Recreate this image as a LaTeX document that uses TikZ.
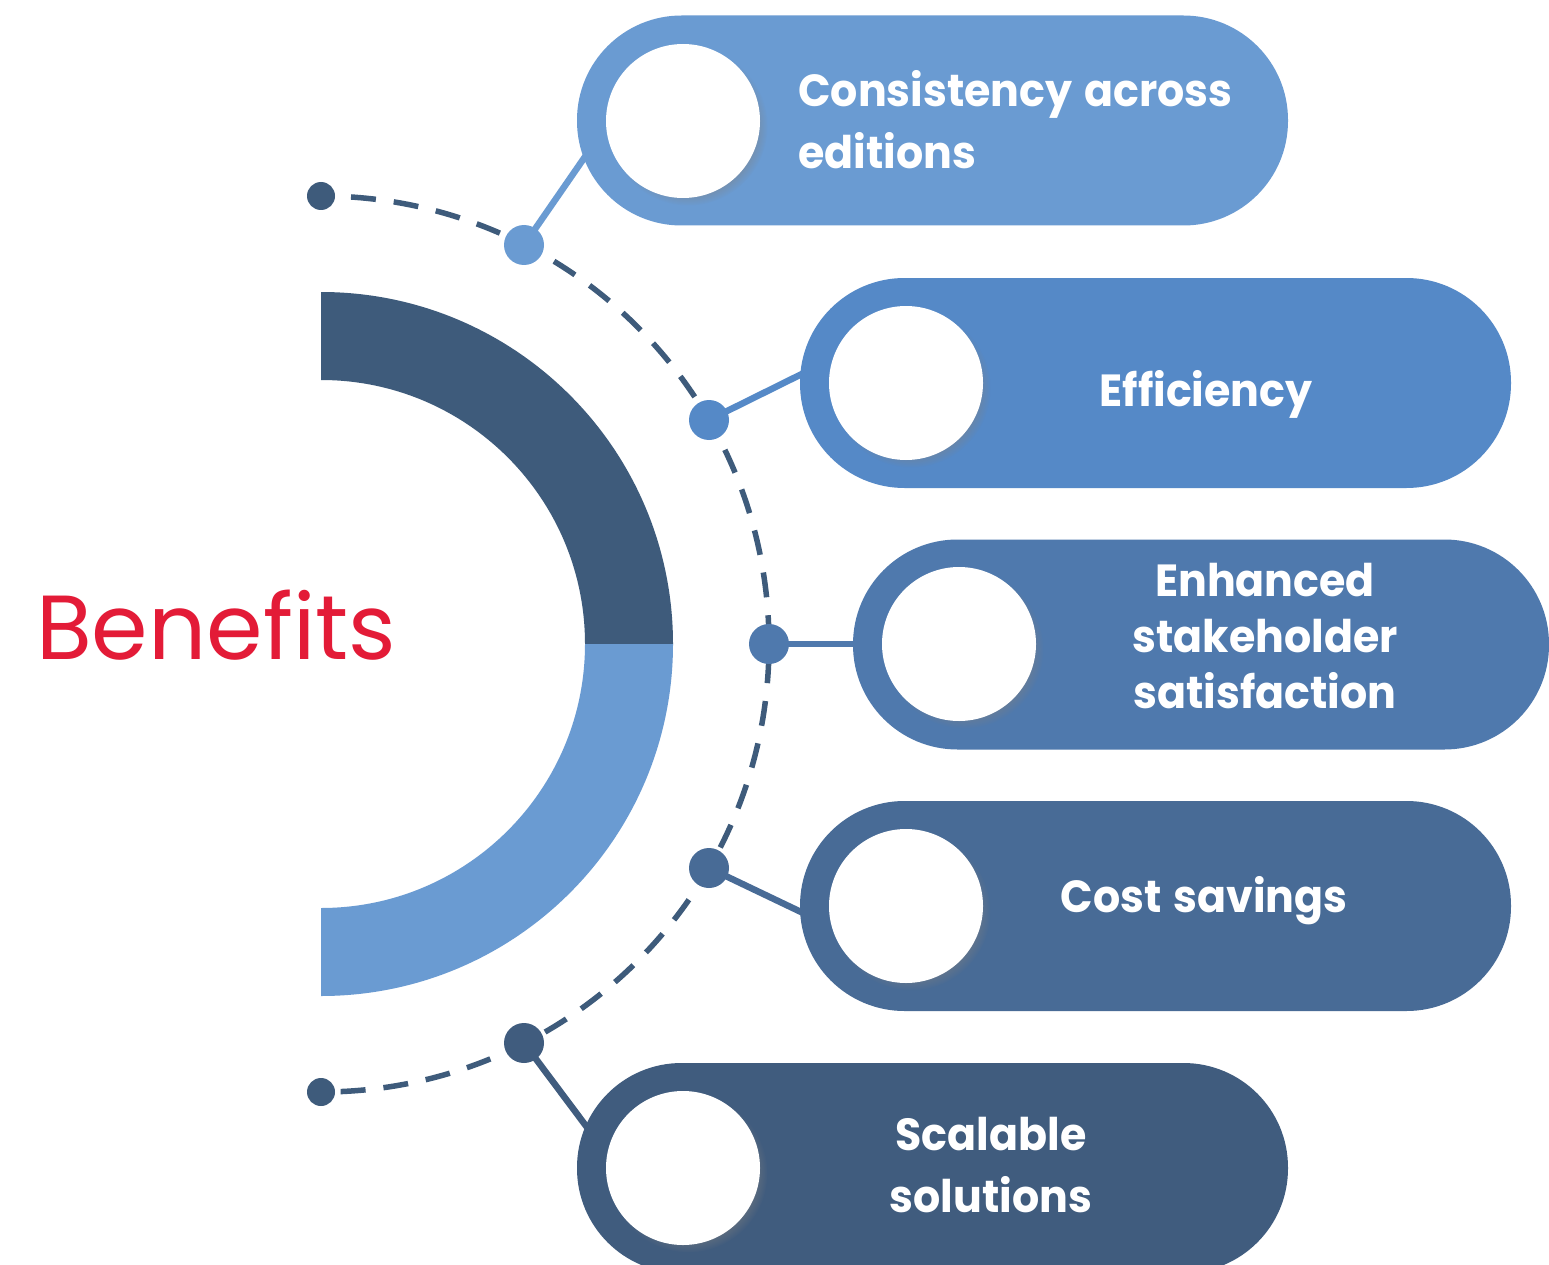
\documentclass[tikz,border=0pt]{standalone}
\usepackage{fontspec}
\setmainfont{Poppins}
\newfontfamily\pillfont[FakeStretch=0.95,WordSpace=1.3]{Poppins}
\usetikzlibrary{backgrounds,shadows,fadings}
\definecolor{cA}{HTML}{6A9BD2}
\definecolor{cB}{HTML}{5589C7}
\definecolor{cC}{HTML}{4F79AD}
\definecolor{cD}{HTML}{486B96}
\definecolor{cE}{HTML}{405C7E}
\definecolor{cDark}{HTML}{3E5B7B}
\definecolor{cRed}{HTML}{E31B37}
\begin{document}
\begin{tikzpicture}[x=1pt,y=-1pt,
  pill/.style={rectangle, rounded corners=104.5pt, inner sep=0pt, minimum height=210pt, minimum width=711pt},
  hole/.style={circle, fill=white, minimum size=154pt, inner sep=0pt,
    circular drop shadow={shadow xshift=5pt, shadow yshift=-5pt, opacity=0.45, shadow scale=1.03}},
  dotnode/.style={circle, inner sep=0pt, minimum size=40pt},
  enddot/.style={circle, fill=cDark, inner sep=0pt, minimum size=28pt},
  link/.style={line width=6.5pt},
  label/.style={text=white, inner sep=0pt, font=\pillfont\fontsize{45}{62}\selectfont\bfseries},
]
\useasboundingbox (0,0) rectangle (1549,1265);

% pills
\node[pill, fill=cA] (p1) at (932.5,120.5) {};
\node[pill, fill=cB] (p2) at (1155.5,383) {};
\node[pill, fill=cC, minimum width=696pt] (p3) at (1201,644.5) {};
\node[pill, fill=cD] (p4) at (1155.5,906) {};
\node[pill, fill=cE] (p5) at (932.5,1168) {};

% white circles
\node[hole] (w1) at (683,121) {};
\node[hole] (w2) at (906,383) {};
\node[hole] (w3) at (959,644) {};
\node[hole] (w4) at (906,906) {};
\node[hole] (w5) at (683,1168) {};

% labels
\node[label, anchor=west, align=left] (t1) at (798,120) {Consistency across\\editions};
\node[label, anchor=base] (t2) at (1206,406) {Efficiency};
\node[label, align=center, font=\pillfont\fontsize{45}{56}\selectfont\bfseries] (t3) at (1265,636) {Enhanced\\stakeholder\\satisfaction};
\node[label, anchor=base] (t4) at (1204,912) {Cost savings};
\node[label, align=center] (t5) at (991,1165) {Scalable\\solutions};

% title
\node[anchor=base west, inner sep=0pt, text=cRed, font=\fontsize{91}{100}\selectfont] (title) at (36,659) {Benefits};

% dots
\node[enddot] (e0) at (321,196) {};
\node[enddot] (e6) at (321,1092) {};
\node[dotnode, fill=cA] (d1) at (524,245) {};
\node[dotnode, fill=cB] (d2) at (709,420) {};
\node[dotnode, fill=cC] (d3) at (769,644) {};
\node[dotnode, fill=cD] (d4) at (709,868) {};
\node[dotnode, fill=cE] (d5) at (524,1043) {};

% connector ends inside the pill rings
\coordinate (k1) at (600,135);
\coordinate (k2) at (822,364);
\coordinate (k3) at (872,644);
\coordinate (k4) at (822,922);
\coordinate (k5) at (598,1142);

\begin{scope}[on background layer]
  \fill[white] (0,0) rectangle (1549,1265);
  % half ring
  \fill[cDark] (321,292) arc[start angle=90, end angle=0, radius=352pt]
    -- (585,644) arc[start angle=0, end angle=90, radius=264pt] -- cycle;
  \fill[cA] (673,644) arc[start angle=0, end angle=-90, radius=352pt]
    -- (321,908) arc[start angle=-90, end angle=0, radius=264pt] -- cycle;
  % dashed arc
  \draw[cDark, line width=5.5pt, dash pattern=on 25pt off 18pt, dash phase=-30pt]
    (e0.center) arc[start angle=90, end angle=-90, radius=448pt];
  % connectors
  \draw[link, cA] (d1.center) -- (k1);
  \draw[link, cB] (d2.center) -- (k2);
  \draw[link, cC] (d3.center) -- (k3);
  \draw[link, cD] (d4.center) -- (k4);
  \draw[link, cE] (d5.center) -- (k5);
\end{scope}
\end{tikzpicture}
\end{document}
